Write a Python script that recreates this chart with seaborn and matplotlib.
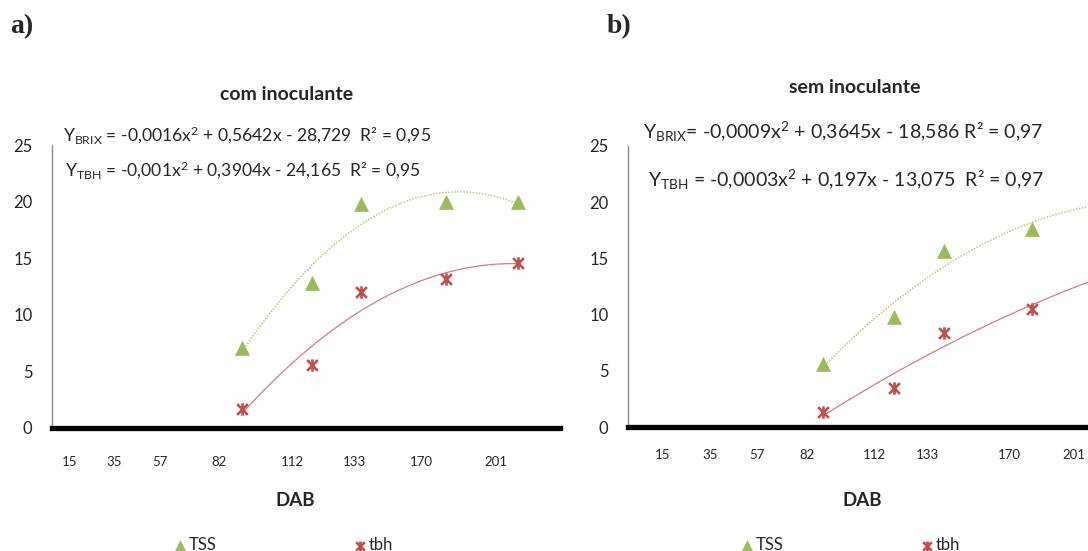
import numpy as np
import matplotlib
matplotlib.use("Agg")
import matplotlib.pyplot as plt
from matplotlib.path import Path
import seaborn as sns

# ---------------- data ----------------
days = [82, 112, 133, 170, 201]
tss_com = [7.1, 12.8, 19.8, 20.0, 20.0]
tbh_com = [1.7, 5.6, 12.0, 13.2, 14.6]
tss_sem = [5.6, 9.8, 15.7, 17.6, 20.0]
tbh_sem = [1.3, 3.5, 8.4, 10.5, 13.5]

xtick_labels = ["15", "35", "57", "82", "112", "133", "170", "201"]
ytick_values = [0, 5, 10, 15, 20, 25]

titles = ["com inoculante", "sem inoculante"]
panel_letters = ["a)", "b)"]
eq_com = ["Y$_{BRIX}$ = -0,0016x$^{2}$ + 0,5642x - 28,729  R\u00b2 = 0,95",
          "Y$_{TBH}$ = -0,001x$^{2}$ + 0,3904x - 24,165  R\u00b2 = 0,95"]
eq_sem = ["Y$_{BRIX}$= -0,0009x$^{2}$ + 0,3645x - 18,586 R\u00b2 = 0,97",
          "Y$_{TBH}$ = -0,0003x$^{2}$ + 0,197x - 13,075  R\u00b2 = 0,97"]
series_names = ["TSS", "tbh"]
xlabel = "DAB"

# ---------------- style ----------------
sns.set_style("white")
plt.rcParams["font.family"] = ["Lato", "DejaVu Sans"]
plt.rcParams["mathtext.fontset"] = "custom"
plt.rcParams["mathtext.rm"] = "Lato"
plt.rcParams["mathtext.it"] = "Lato"
plt.rcParams["mathtext.bf"] = "Lato:bold"
plt.rcParams["mathtext.default"] = "regular"

GREEN = "#9BBB59"
RED = "#C0504D"

star = Path([(-1, -1), (1, 1), (-1, 1), (1, -1), (0, -1.15), (0, 1.15)],
            [Path.MOVETO, Path.LINETO, Path.MOVETO, Path.LINETO, Path.MOVETO, Path.LINETO])

W, H = 1088, 551
fig = plt.figure(figsize=(W / 100, H / 100), dpi=100)

def fx(px):
    return px / W

def fy(py):
    return 1 - py / H

ax_a = fig.add_axes([fx(52), fy(428), (560 - 52) / W, (428 - 145) / H])
ax_b = fig.add_axes([fx(628), fy(427), 520 / W, (427 - 146) / H])

tick_pos_a = [7.5, 26.9, 46.4, 71.8, 103.8, 130.2, 159.1, 191.2]
tick_pos_b = [14.6, 34.5, 54.1, 75.4, 103.7, 126.2, 160.7, 187.8]

panels = [
    (ax_a, tss_com, tbh_com, tick_pos_a, 20, eq_com, [(63, 135), (65, 170)], 12.6, (284, 545)),
    (ax_b, tss_sem, tbh_sem, tick_pos_b, 16, eq_sem, [(643, 132), (648, 180)], 14.0, (851, 545)),
]

for (ax, tss, tbh, tpos, tpad, eqs, eqpos, eqsize, legpos) in panels:
    sns.regplot(x=days, y=tss, order=2, ci=None, scatter=False, ax=ax,
                line_kws=dict(color="#B5CC7E", lw=1.1, ls=(0, (1, 1))))
    sns.regplot(x=days, y=tbh, order=2, ci=None, scatter=False, ax=ax,
                line_kws=dict(color="#D77B78", lw=0.9, ls="-"))
    sns.scatterplot(x=days, y=tss, marker="^", s=100, color=GREEN, edgecolor=GREEN,
                    linewidth=0.5, ax=ax, label=series_names[0], zorder=5)
    sns.scatterplot(x=days, y=tbh, marker=star, s=80, color=RED, edgecolor=RED,
                    linewidth=1.9, ax=ax, label=series_names[1], zorder=5)

    ax.set_xlim(0, 219)
    ax.set_ylim(0, 25)
    ax.set_xticks(tpos)
    ax.set_xticklabels(xtick_labels, fontsize=9.5)
    ax.set_yticks(ytick_values)
    ax.set_yticklabels([str(v) for v in ytick_values], fontsize=12)
    ax.tick_params(axis="x", length=0, pad=tpad)
    ax.tick_params(axis="y", length=0, pad=14)
    ax.set_xlabel("")
    ax.set_ylabel("")
    for s in ["top", "right"]:
        ax.spines[s].set_visible(False)
    ax.spines["left"].set_color("#8C8C8C")
    ax.spines["left"].set_linewidth(1.0)
    ax.spines["bottom"].set_color("black")
    ax.spines["bottom"].set_linewidth(3.8)
    ax.spines["bottom"].set_zorder(6)
    ax.grid(False)

    for txt, (px, py) in zip(eqs, eqpos):
        fig.text(fx(px), fy(py), txt, fontsize=eqsize, ha="left", va="center")
    handles, labels = ax.get_legend_handles_labels()
    ax.legend(handles, labels, loc="center", bbox_to_anchor=(fx(legpos[0]), fy(legpos[1])),
              bbox_transform=fig.transFigure, ncol=2, frameon=False, fontsize=12,
              handlelength=0.6, handletextpad=0.2, columnspacing=8.3, markerscale=0.8)

fig.text(fx(287), fy(95), titles[0], fontsize=14, fontweight="bold", ha="center", va="center")
fig.text(fx(855), fy(88), titles[1], fontsize=14, fontweight="bold", ha="center", va="center")
fig.text(fx(295), fy(500), xlabel, fontsize=13.5, fontweight="bold", ha="center", va="center")
fig.text(fx(862), fy(500), xlabel, fontsize=13.5, fontweight="bold", ha="center", va="center")
fig.text(fx(10), fy(27), panel_letters[0], fontsize=20, fontweight="bold",
         family="Liberation Serif", ha="left", va="center")
fig.text(fx(607), fy(27), panel_letters[1], fontsize=20, fontweight="bold",
         family="Liberation Serif", ha="left", va="center")

fig.savefig("out.png", dpi=100)
